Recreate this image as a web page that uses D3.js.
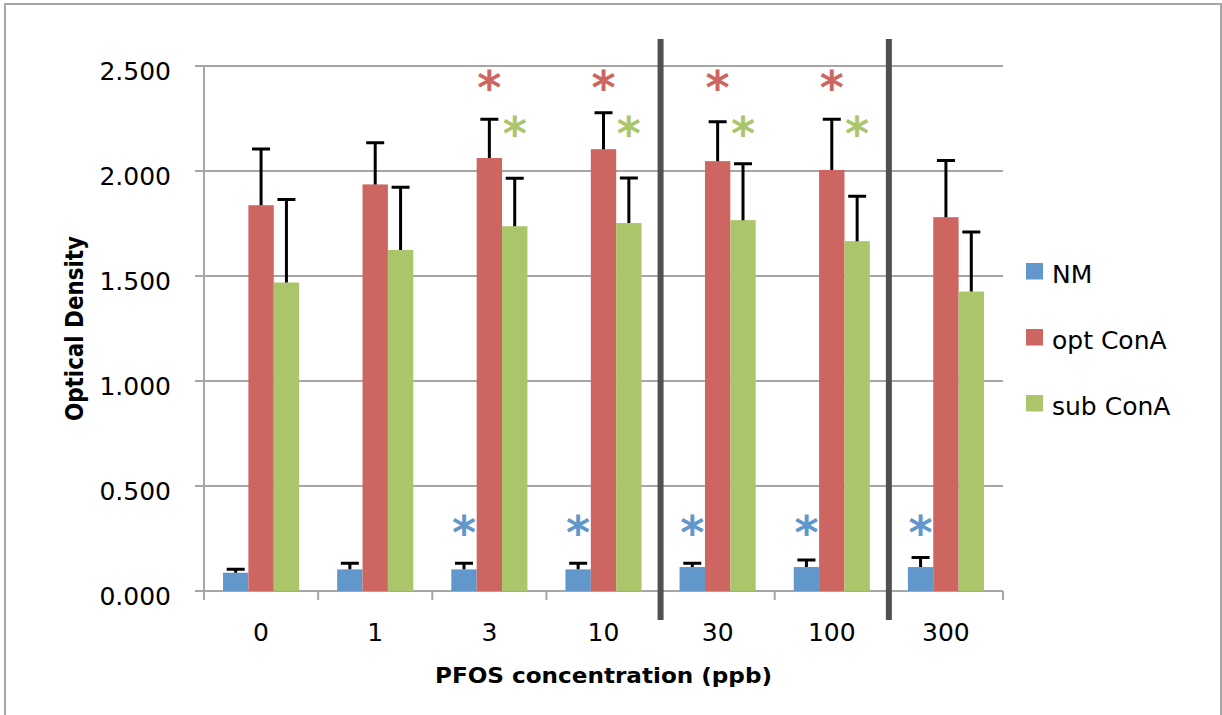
<!DOCTYPE html>
<html>
<head>
<meta charset="utf-8">
<script src="https://cdn.jsdelivr.net/npm/d3@7"></script>
<style>
    body { margin: 0; background: #fff; }
    svg { display: block; }
    text { font-family: "DejaVu Sans", sans-serif; fill: #000; }
</style>
</head>
<body>
<svg id="chart" width="1222" height="715"></svg>
<script>
// PFOS concentrations (ppb)
const categories = ["0", "1", "3", "10", "30", "100", "300"];
const seriesNames = ["NM", "opt ConA", "sub ConA"];

// mean optical density per concentration
const nmValues  = [0.087, 0.103, 0.103, 0.103, 0.114, 0.114, 0.114];
const optValues = [1.837, 1.936, 2.062, 2.104, 2.047, 2.005, 1.780];
const subValues = [1.469, 1.624, 1.737, 1.752, 1.766, 1.666, 1.426];

// error (upper bar only)
const nmErrors  = [0.016, 0.029, 0.029, 0.029, 0.018, 0.034, 0.046];
const optErrors = [0.268, 0.198, 0.185, 0.173, 0.187, 0.242, 0.270];
const subErrors = [0.395, 0.299, 0.229, 0.215, 0.268, 0.214, 0.284];

// significance marks, and the level (in OD units) where each series' star sits
const nmSignificant  = [false, false, true, true, true, true, true];
const optSignificant = [false, false, true, true, true, true, false];
const subSignificant = [false, false, true, true, true, true, false];
const starLevels = [0.31, 2.43, 2.21];

// heavy separators drawn after these categories
const separatorsAfter = ["10", "100"];

const yTicks = [0, 0.5, 1, 1.5, 2, 2.5];
const colors = ["#6297cb", "#cd6560", "#abc56b"];

const series = [
    {name: seriesNames[0], values: nmValues, errors: nmErrors, sig: nmSignificant},
    {name: seriesNames[1], values: optValues, errors: optErrors, sig: optSignificant},
    {name: seriesNames[2], values: subValues, errors: subErrors, sig: subSignificant}
];

const svg = d3.select("#chart");
const margin = {top: 66, right: 219, bottom: 124, left: 204};
const width = +svg.attr("width") - margin.left - margin.right;
const height = +svg.attr("height") - margin.top - margin.bottom;

// outer frame of the chart object
svg.append("rect")
    .attr("x", 5).attr("y", 4)
    .attr("width", 1216).attr("height", 730)
    .attr("fill", "none")
    .attr("stroke", "#a6a6a6")
    .attr("stroke-width", 2);

const x = d3.scaleBand()
    .domain(categories)
    .range([0, width]);

// Excel-style gap width of 150%
const xInner = d3.scaleBand()
    .domain(seriesNames)
    .range([0, x.bandwidth()])
    .paddingOuter(0.75);

const y = d3.scaleLinear()
    .domain([0, 2.5])
    .range([height, 0]);

const g = svg.append("g")
    .attr("transform", `translate(${margin.left}, ${margin.top})`);

// gridlines
g.append("g")
    .selectAll("line")
    .data(yTicks)
    .enter()
    .append("line")
    .attr("x1", -9)
    .attr("x2", width)
    .attr("y1", d => y(d))
    .attr("y2", d => y(d))
    .attr("stroke", "#a6a6a6")
    .attr("stroke-width", 2);

// y axis line and labels
g.append("line")
    .attr("x1", 0).attr("x2", 0)
    .attr("y1", 0).attr("y2", height)
    .attr("stroke", "#a6a6a6")
    .attr("stroke-width", 2);

g.append("g")
    .selectAll("text")
    .data(yTicks)
    .enter()
    .append("text")
    .attr("x", -33)
    .attr("y", d => y(d) + 13.5)
    .attr("text-anchor", "end")
    .style("font-size", "25px")
    .text(d3.format(".3f"));

// x axis line, ticks between categories, labels
g.append("line")
    .attr("x1", 0).attr("x2", width)
    .attr("y1", height).attr("y2", height)
    .attr("stroke", "#a6a6a6")
    .attr("stroke-width", 2);

g.append("g")
    .selectAll("line")
    .data(categories.concat([null]))
    .enter()
    .append("line")
    .attr("x1", (d, i) => i * x.step())
    .attr("x2", (d, i) => i * x.step())
    .attr("y1", height)
    .attr("y2", height + 9)
    .attr("stroke", "#a6a6a6")
    .attr("stroke-width", 2);

g.append("g")
    .selectAll("text")
    .data(categories)
    .enter()
    .append("text")
    .attr("x", d => x(d) + x.bandwidth() / 2)
    .attr("y", height + 50)
    .attr("text-anchor", "middle")
    .style("font-size", "25px")
    .text(d => d);

// bars
const groups = g.selectAll(".series")
    .data(series)
    .enter()
    .append("g")
    .attr("class", "series");

groups.each(function (s, si) {
    let sg = d3.select(this);
    let rows = categories.map((c, i) => ({cat: c, value: s.values[i], err: s.errors[i], sig: s.sig[i]}));
    let cx = d => x(d.cat) + xInner(s.name) + xInner.bandwidth() / 2;

    sg.selectAll("rect")
        .data(rows)
        .enter()
        .append("rect")
        .attr("x", d => x(d.cat) + xInner(s.name))
        .attr("y", d => y(d.value))
        .attr("width", xInner.bandwidth())
        .attr("height", d => height - y(d.value))
        .attr("fill", colors[si]);

    // upper error bars
    sg.selectAll(".err")
        .data(rows)
        .enter()
        .append("path")
        .attr("class", "err")
        .attr("d", d => `M${cx(d)},${y(d.value)}V${y(d.value + d.err)}` +
            `M${cx(d) - 9},${y(d.value + d.err)}H${cx(d) + 9}`)
        .attr("stroke", "#000")
        .attr("stroke-width", 3)
        .attr("fill", "none");

    sg.selectAll(".star")
        .data(rows.filter(d => d.sig))
        .enter()
        .append("text")
        .attr("class", "star")
        .attr("x", d => cx(d))
        .attr("y", y(starLevels[si]) + 23)
        .attr("text-anchor", "middle")
        .style("font-size", "46px")
        .style("font-weight", "bold")
        .style("fill", colors[si])
        .text("*");
});

// heavy separators with a soft shadow
const defs = svg.append("defs");
const shadow = defs.append("filter").attr("id", "sep-shadow")
    .attr("x", "-200%").attr("width", "500%");
shadow.append("feGaussianBlur").attr("stdDeviation", 2);

const sepX = c => x(c) + x.bandwidth();
const seps = g.append("g");
seps.selectAll(".sep-shadow")
    .data(separatorsAfter)
    .enter()
    .append("line")
    .attr("x1", d => sepX(d) + 1).attr("x2", d => sepX(d) + 1)
    .attr("y1", -27).attr("y2", height + 31)
    .attr("stroke", "#bbb")
    .attr("stroke-width", 8)
    .attr("filter", "url(#sep-shadow)");
seps.selectAll(".sep")
    .data(separatorsAfter)
    .enter()
    .append("line")
    .attr("x1", d => sepX(d)).attr("x2", d => sepX(d))
    .attr("y1", -27).attr("y2", height + 29)
    .attr("stroke", "#505050")
    .attr("stroke-width", 6);

// axis titles
g.append("text")
    .attr("transform", `translate(-121, ${height / 2}) rotate(-90)`)
    .attr("text-anchor", "middle")
    .attr("textLength", 185)
    .attr("lengthAdjust", "spacingAndGlyphs")
    .style("font-size", "25px")
    .style("font-weight", "bold")
    .text("Optical Density");

g.append("text")
    .attr("x", width / 2)
    .attr("y", height + 92)
    .attr("text-anchor", "middle")
    .attr("textLength", 337)
    .attr("lengthAdjust", "spacingAndGlyphs")
    .style("font-size", "22px")
    .style("font-weight", "bold")
    .text("PFOS concentration (ppb)");

// legend
const legend = svg.append("g")
    .attr("transform", "translate(1026, 263)");
const items = legend.selectAll("g")
    .data(seriesNames)
    .enter()
    .append("g")
    .attr("transform", (d, i) => `translate(0, ${i * 66})`);
items.append("rect")
    .attr("width", 17)
    .attr("height", 16.5)
    .attr("fill", (d, i) => colors[i]);
items.append("text")
    .attr("x", 26)
    .attr("y", 19.5)
    .style("font-size", "25px")
    .text(d => d);
</script>
</body>
</html>
